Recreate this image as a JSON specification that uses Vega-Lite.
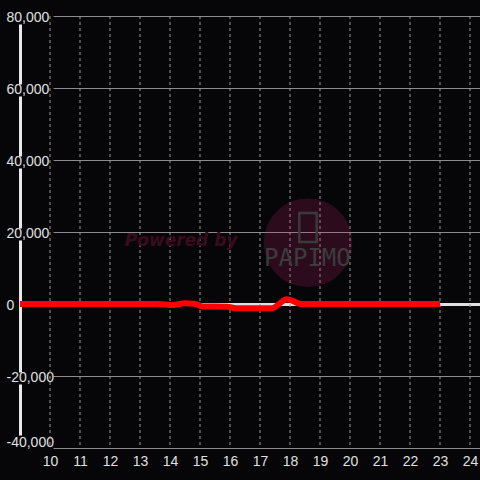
{
  "$schema": "https://vega.github.io/schema/vega-lite/v6.json",
  "width": 460,
  "height": 432,
  "autosize": {"type": "none"},
  "padding": {"left": 20, "top": 16, "right": 0, "bottom": 32},
  "background": "#060608",
  "config": {
    "view": {"stroke": null},
    "font": "Liberation Sans",
    "axisX": {"grid": false, "gridOpacity": 0}
  },
  "datasets": {
    "flow": [
      {"hour": 9, "value": 0},
      {"hour": 10, "value": 0},
      {"hour": 11, "value": 0},
      {"hour": 12, "value": 0},
      {"hour": 13, "value": 0},
      {"hour": 13.6, "value": 0},
      {"hour": 14.1, "value": -300},
      {"hour": 14.5, "value": 200},
      {"hour": 14.8, "value": 100},
      {"hour": 15.1, "value": -700},
      {"hour": 15.9, "value": -750},
      {"hour": 16.2, "value": -1200},
      {"hour": 17.0, "value": -1200},
      {"hour": 17.4, "value": -1150},
      {"hour": 17.9, "value": 1300},
      {"hour": 18.4, "value": 0},
      {"hour": 19, "value": 0},
      {"hour": 20, "value": 0},
      {"hour": 21, "value": 0},
      {"hour": 22, "value": 0},
      {"hour": 23, "value": 0}
    ],
    "hours": [
      {"hour": 10}, {"hour": 11}, {"hour": 12}, {"hour": 13}, {"hour": 14},
      {"hour": 15}, {"hour": 16}, {"hour": 17}, {"hour": 18}, {"hour": 19},
      {"hour": 20}, {"hour": 21}, {"hour": 22}, {"hour": 23}, {"hour": 24}
    ],
    "brand": [
      {"hour": 14.37, "value": 17500, "text": "Powered by"}
    ],
    "logo": [
      {"hour": 18.58, "value": 12600, "text": "PAPIMO"}
    ],
    "badge": [
      {"hour": 18.6, "value": 17000}
    ],
    "phone": [
      {"hour": 18.6, "value": 21250}
    ]
  },
  "layer": [
    {
      "data": {"name": "hours"},
      "mark": {"type": "rule", "color": "#9a9a9a", "strokeWidth": 1, "strokeDash": [3, 3]},
      "encoding": {
        "x": {"field": "hour", "type": "quantitative"}
      }
    },
    {
      "data": {"name": "flow"},
      "mark": {"type": "line", "color": "#ff0000", "strokeWidth": 6, "interpolate": "monotone", "strokeCap": "butt"},
      "encoding": {
        "x": {
          "field": "hour",
          "type": "quantitative",
          "scale": {"domain": [9, 24.3333], "nice": false, "zero": false},
          "axis": {
            "values": [10, 11, 12, 13, 14, 15, 16, 17, 18, 19, 20, 21, 22, 23, 24],
            "tickCount": 15,
            "title": null,
            "domain": false,
            "ticks": false,
            "tickSize": 0,
            "labelPadding": 6,
            "labelFont": "Liberation Sans",
            "labelFontSize": 14,
            "labelColor": "#e0e0e0",
            "labelFlush": false,
            "labelOverlap": false,
            "labelSeparation": 0,
            "grid": false,
            "gridOpacity": 0
          }
        },
        "y": {
          "field": "value",
          "type": "quantitative",
          "scale": {"domain": [-40000, 80000], "nice": false, "zero": false},
          "axis": {
            "values": [-40000, -30000, -20000, -10000, 0, 10000, 20000, 30000, 40000, 50000, 60000, 70000, 80000],
            "title": null,
            "format": ",d",
            "labelExpr": "datum.value % 20000 === 0 ? replace(datum.label, '\u2212', '-') : ''",
            "ticks": false,
            "tickSize": 0,
            "labelAlign": "left",
            "labelPadding": 14,
            "labelBaseline": "middle",
            "labelOffset": {"condition": {"test": "datum.value === -40000", "value": -6}, "value": 1},
            "labelFont": "Liberation Sans",
            "labelFontSize": 14,
            "labelColor": "#e0e0e0",
            "labelOverlap": false,
            "labelFlush": false,
            "domain": true,
            "domainColor": "#e8e8e8",
            "domainWidth": 3,
            "domainDash": [0, 13, 51, 12, 132, 12, 60, 12, 60, 12, 60, 100],
            "grid": true,
            "gridColor": {"condition": {"test": "datum.value === 0", "value": "#e0e0e0"}, "value": "#8c8c8c"},
            "gridWidth": {"condition": {"test": "datum.value === 0", "value": 3}, "value": 1},
            "gridDash": {"condition": {"test": "datum.value % 20000 === 0 && datum.value !== 0", "value": [0, 33, 1000, 0]}, "value": []}
          }
        }
      }
    },
    {
      "data": {"name": "badge"},
      "mark": {"type": "point", "shape": "circle", "filled": true, "size": 7850, "color": "#c8286e", "opacity": 0.2},
      "encoding": {
        "x": {"field": "hour", "type": "quantitative"},
        "y": {"field": "value", "type": "quantitative"}
      }
    },
    {
      "data": {"name": "phone"},
      "mark": {"type": "point", "shape": "M-0.6,-1L0.6,-1L0.6,1L-0.6,1Z", "filled": false, "size": 841, "color": "#3a3a3a", "strokeWidth": 2.5, "opacity": 1},
      "encoding": {
        "x": {"field": "hour", "type": "quantitative"},
        "y": {"field": "value", "type": "quantitative"}
      }
    },
    {
      "data": {"name": "brand"},
      "mark": {"type": "text", "font": "DejaVu Sans", "fontSize": 17, "fontWeight": "bold", "fontStyle": "italic", "color": "#3a0c1e", "align": "center", "baseline": "middle"},
      "encoding": {
        "x": {"field": "hour", "type": "quantitative"},
        "y": {"field": "value", "type": "quantitative"},
        "text": {"field": "text"}
      }
    },
    {
      "data": {"name": "logo"},
      "mark": {"type": "text", "font": "DejaVu Sans Mono", "fontSize": 24, "color": "#3c3c3c", "align": "center", "baseline": "middle", "letterSpacing": -3},
      "encoding": {
        "x": {"field": "hour", "type": "quantitative"},
        "y": {"field": "value", "type": "quantitative"},
        "text": {"field": "text"}
      }
    }
  ]
}
